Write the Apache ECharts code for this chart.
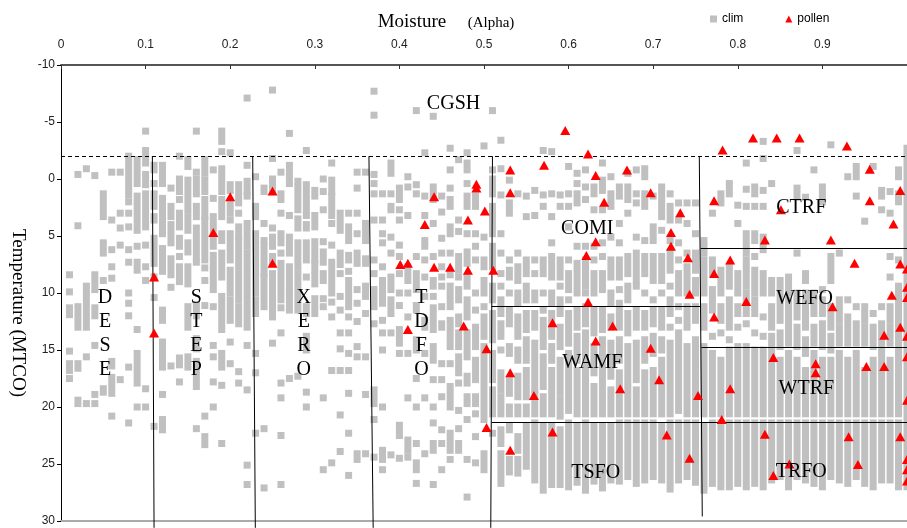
<!DOCTYPE html>
<html>
<head>
<meta charset="utf-8">
<script src="https://cdn.jsdelivr.net/npm/echarts@6/dist/echarts.min.js"></script>
<style>
  html, body { margin: 0; padding: 0; background: #fff; }
  #mainChart { width: 907px; height: 528px; }
</style>
</head>
<body>
<div id="mainChart"></div>
<script>
// clim points, one entry per moisture column: [alpha, [temp or [tempFrom, tempTo], ...]]
var climWest = [
    [0.01, [8.4, 9.9, [11.3, 11.9], 15.1, [16.2, 16.8], 17.5]],
    [0.02, [-0.4, 4.1, [11.2, 13], [16.2, 16.6], [19.4, 19.7]]],
    [0.03, [-0.9, [9.4, 13.0], 15.6, 19.7]],
    [0.04, [-0.3, [8.4, 9.7], [11.3, 12], 14.6, 18.9, 19.7]],
    [0.05, [[1.3, 3.3], [5.6, 6.5], 8.9, [18.4, 18.7]]],
    [0.06, [-0.6, 3.6, 6.2, 7.7, 8.7, [16, 16.4], [17.4, 18.8], 20.8]],
    [0.07, [-0.6, 3, 4.3, 5.8, 17.6]],
    [0.08, [[-2, 1.4], 2, 3, 4.2, 6.2, 7.3, 10, 10.9, 12, 16.5, 21.4]],
    [0.09, [[-1.7, 0.4], [1.5, 4.5], 5.9, [7.3, 8], 13.2, [15.3, 17.9], 20]],
    [0.10, [-4.2, [-2.5, -1.4], [-0.4, 0.5], [1.3, 4.2], 5.8, 7.7, 8.9, 18.4, 20]],
    [0.11, [[-1.2, -0.8], 0.4, [1.3, 2.4], [3.3, 3.6], [5.2, 7.4], 8.6, 10.4, 21.7]],
    [0.12, [[-1.2, 0.4], [1.7, 4.8], [6.1, 8.1], [11.5, 12.4], [14.3, 15.3], [15.7, 16.5], 18.9, [21.1, 22]]],
    [0.13, [0.8, [2.4, 3.3], [4, 5.6], [7, 8.4], 9.5, 16.4]],
    [0.14, [-2, [0, 1.1], 1.8, [3, 4.2], [5.2, 5.9], 6.8, [7.7, 9], [15.7, 16.3], 17.8]],
    [0.15, [[-1.7, -1.1], [0.1, 2.7], [3.3, 4.5], [5.6, 6.4], [7.7, 9.2], [11.2, 13], [15.6, 16.5]]],
    [0.16, [-4.2, -0.6, [0, 1.3], [2.4, 3.3], [4.3, 6.8], 7.3, [11, 12], [14, 14.9], [16, 18.2], 21.9]],
    [0.17, [[-1.7, -0.5], [0.1, 1.1], [1.8, 3.3], [3.6, 7.1], 7.8, 8.9, 11.1, 20.8, [22.6, 23.3]]],
    [0.18, [-0.8, 1.7, [3.3, 5.9], [6.7, 9.7], 11.2, 14.6, 15.6, 17.8, 20]],
    [0.19, [[-4.2, -3.3], -2.4, [-0.9, 1.1], [1.8, 3.3], [4.8, 5.4], [6.5, 8.6], [10.3, 13.2], [15.3, 16.5], 18.1, 23.2]],
    [0.20, [-2.3, [0.5, 1], [2.1, 3], 3.6, [4.8, 7.1], [8, 10], [10.6, 12.4], 14.3, 16.2]],
    [0.21, [[0.5, 2.1], 3, [4.2, 5], [5.4, 7.7], [8.3, 10.6], [11.2, 12.7], 16.9, 17.9]],
    [0.22, [-7.1, -1.2, [0.2, 1.1], 1.5, [3.9, 5.9], [6.5, 13], 14.6, 18.5, 25.1, 26.8]],
    [0.23, [-0.2, [2.4, 3.3], [4.8, 5.9], [6.2, 10], [10.6, 11.8], 15.3, 17, 22.3]],
    [0.24, [[0.8, 1.1], 3.9, 5.4, [5.9, 8.3], [8.6, 11.2], 21.9, 27.1]],
    [0.25, [-7.8, -1.8, [0, 0.5], 1.1, 4.3, [5.1, 5.9], [6.8, 7.4], [8.3, 12.1], 14.4]],
    [0.26, [-0.6, [1.3, 1.8], 3, [4.8, 5.6], 6.5, [7.4, 10.6], 11.3, 13.5, 17.9, 19.2, 22.5, 26.8]],
    [0.27, [-4, [-1.2, 0.4], 3.2, [5.1, 6.5], [7.7, 9.7], [10, 11.5], 17.5]],
    [0.28, [0.2, [0.7, 2.7], [3.5, 4.3], [5.6, 7.7], [8.3, 11.5], 17.3]],
    [0.29, [-2.5, [0.5, 2.7], 3.2, [4, 4.3], [5.6, 7.1], 8.6, [11.2, 11.8], [13.8, 15], 18.7, 20]],
    [0.30, [[1, 1.5], [3.2, 4.2], [5.5, 7.1], [7.4, 9.2], [10.5, 11.8]]],
    [0.31, [0, 1.1, 2.7, 5.5, [6.4, 7.3], [8.3, 8.9], 10.5, 11.2, 19.2, 25.5]],
    [0.32, [-1.4, [0.1, 1.1], [1.5, 3.2], 3.9, 5.8, [7.3, 10], 10.8, 12.1, 16.8, 24.9]],
    [0.33, [[3, 4.5], [6.5, 7.5], 8.3, 10.3, 11.5, 13.5, 14.9, 16.8, 20.7, 23.9]]
];
var climMid = [
    [0.34, [3, [4.2, 5.4], [6.7, 7.1], 8.1, [8.9, 11.2], 12.1, 13.5, 15.3, 16.8, 18.8, 22.3, 26]],
    [0.35, [-0.6, 0.8, 3, 4.8, [6.5, 7.4], 9.7, 10.9, 12.5, 14.7, 15.6, [24.1, 24.6]]],
    [0.36, [-0.6, [3.9, 5.4], [7, 7.4], [9.4, 10.3], 11.8, 15.6, 18.9, 24.1]],
    [0.37, [-7.7, -5.6, -0.4, 0.4, 1.3, 3.6, 7.1, 8.3, [9.7, 11.2], 12.7, [18.5, 19.7], 21.1, 24.4]],
    [0.38, [1.3, 3.6, 4.8, 5.6, 7.7, [8.9, 9.7], [10.3, 10.9], 12.4, 13.5, 15, 20, [23.8, 24.6], 25.5]],
    [0.39, [[-1.4, -0.5], 1.3, [2.4, 2.7], 5.1, 6.5, [8.6, 9.7], [10.6, 11.8], 13.5, 24.2]],
    [0.40, [[0.8, 1.8], 2.7, 3.6, 5.8, 6.8, 8.3, 10, 11.1, [13.2, 14.4], 15.3, [21.6, 22.5], 24.5]],
    [0.41, [-0.2, 0.7, 3.2, [7.7, 8.9], 10, 12.1, 15.3, 19.2, [22.9, 23.8], 24.4]],
    [0.42, [-6, 0.5, 1.3, 6.8, 8.3, [8.9, 9.7], [11.1, 11.5], [14.1, 15], 17.5, 20, 23.2, [24.9, 25.5], 26.7]],
    [0.43, [-2.3, 1.5, 3.2, 5.4, 5.9, 7.1, 8.6, 10.3, [12.4, 13], 15.3, 19.2, 24.1]],
    [0.44, [-5.5, [0.7, 1.8], 3.9, 6.8, [8.9, 9.4], 10.3, [11.3, 13.2], [14.7, 15.9], 17.6, 20, 21.4, [23.2, 23.8], 26.8]],
    [0.45, [1.5, 2.9, 5.2, 6.5, 7.7, 8.6, 9.4, 11.2, [12.7, 13], 16.2, 17.6, 19.1, 22, 23.2, 25.5]],
    [0.46, [-2.7, -0.8, 0.8, [1.8, 2.4], [4.2, 4.8], 6.5, 8.4, [9.4, 11.2], [12.4, 14.7], 16.2, [18.2, 20], [22.3, 23.2], 23.8, 24.6]],
    [0.47, [-1.7, 3.6, 4.6, [6.8, 8], 8.6, [9.7, 10.6], [12.1, 12.7], [13.5, 14.7], [15.6, 17], 17.9, 20.3, 21.9, [23.2, 23.8]]],
    [0.48, [-2.3, [-1.4, -0.8], 0.4, [1.5, 2.4], 4.8, [6.4, 7.4], [8.6, 9.4], [10.6, 12.1], [13.5, 15.6], [17.3, 17.9], [19.1, 19.7], 21.1, 24.6, 27.9]],
    [0.49, [[1.5, 2.4], 4.8, 5.9, 7.1, 10, 11.5, [13, 14.7], [15.9, 17.6], [19.1, 19.7], 20.6, 22.6, 24.9]],
    [0.50, [-2.9, 5.1, [7.1, 7.7], [8.9, 10], 11.2, [12.1, 13.8], [14.7, 17.6], [18.2, 21.1], [24.1, 25.5]]],
    [0.51, [-6, -0.8, [0, 1.3], [2.4, 4.8], [5.9, 7.7], [9.4, 10.6], [11.8, 14.1], [15.3, 17.6], [18.5, 20.6], 22.3]],
    [0.52, [-3.4, -0.9, 1.4, 4.8, 6.5, 8.3, 9.4, [10.6, 11.8], [12.7, 13.8], 15, [17, 18.5], [19.1, 20.6], [22, 23.2], [24.1, 26.7]]],
    [0.53, [0.1, [2.1, 3], 7.1, [8, 8.6], 10, [11.5, 12.7], [14.7, 15.3], [17.6, 18.8], [20, 20.6], [21.7, 22], [24.6, 25.7]]],
    [0.54, [1.3, 6.5, [7.7, 8.9], [10, 10.9], [12.1, 13.8], [15, 15.9], [17.3, 19.1], [20, 20.6], [22.6, 23.8], [24.6, 25.8]]],
    [0.55, [1.5, 3.3, [7.1, 8.3], [9.4, 10.6], [11.8, 13.2], [14.1, 15.9], [16.8, 19.1], [20, 20.6], [21.7, 25.2]]],
    [0.56, [1, 3.2, 7.1, 8.3, [10, 10.6], [11.8, 13], [14.4, 18.5], [18.8, 20.6], [21.4, 26.4]]],
    [0.57, [-2.5, 1.4, 2.4, [7.1, 8.3], 10, 11.5, [12.4, 14.7], [15.6, 18.2], [19.1, 20.6], [21.7, 27.3]]],
    [0.58, [-2.4, 1.3, 3.3, 5.6, [6.8, 8.6], [10, 10.9], [11.8, 13.8], [14.7, 15.9], [16.8, 20.6], [21.7, 26.8]]],
    [0.59, [1.4, 2.4, [7.1, 8.6], 9.4, [10.6, 11.8], [13, 14.7], [15.9, 18.8], [19.4, 20.8], [22, 26.8]]],
    [0.60, [-1.1, 1.3, 2.4, 4.2, 7.1, [8.3, 9.7], 10.6, [11.8, 14.4], [15.3, 20.3], [21.4, 27]]],
    [0.61, [-0.5, 0.4, [1.3, 2.1], 5.9, [7.4, 10], [11.5, 13], [13.8, 15.9], [16.8, 20.6], [21.7, 26.6]]],
    [0.62, [-0.8, 0.7, 1.8, 5.9, [7.1, 9.4], 10, [11.2, 12.7], [13.5, 15.3], [15.9, 20.6], [21.4, 27.3]]],
    [0.63, [[0.7, 1.3], 2.7, 5.9, 7.1, [8.3, 10], [11.5, 13.5], [14.7, 17], [18.2, 20.6], [21.7, 26.5]]],
    [0.64, [-1.4, [0.1, 1], 2.7, 5.6, 6.8, [8.3, 9.7], [11.5, 13.2], [14.1, 15.3], [15.9, 20.6], [21.7, 27.1]]],
    [0.65, [-0.2, [1.3, 2.4], 5.1, [7.1, 8.6], [10, 10.9], [12.1, 13], [14.4, 17.3], [18.5, 20.6], [21.7, 26.4]]],
    [0.66, [[0.7, 1.5], 3.9, 5.6, [7.1, 8.6], 9.7, [10.9, 13], [14.1, 15.9], [17, 20.6], [21.4, 26.5]]],
    [0.67, [-0.5, [0.7, 1.8], 3, [6.8, 8.3], [9.4, 10.6], [11.8, 13.5], [14.7, 17.6], [18.2, 20.6], [21.4, 26.1]]]
];
var climEast = [
    [0.68, [-0.8, 1.3, 2.1, 5.1, [6.5, 8.9], 9.4, [11.5, 13], [14.4, 17.6], [18.5, 20.6], [21.4, 26.7]]],
    [0.69, [[-0.9, -0.2], [1.3, 2.4], 5.4, [6.8, 8.3], 10, [11.8, 13], [14.1, 15.9], [17, 20.6], [21.4, 26.4]]],
    [0.70, [1.5, [4.2, 5.4], [6.8, 8.9], 10.6, [11.5, 12.7], [13.8, 15.3], [16.8, 20.6], [21.4, 26.1]]],
    [0.71, [[0.7, 3.3], 4.5, [6.8, 8.9], 10, [11.5, 13], [14.1, 15], [15.9, 20.6], [21.7, 26.4]]],
    [0.72, [1.3, [2.4, 3.6], 5.4, [6.5, 8], 9.4, [10.6, 11.8], 13, [14.4, 20.6], [21.4, 27.2]]],
    [0.73, [2.1, 3.6, 5.6, 7.1, [8.3, 10], 11.2, 12.4, [13.5, 20.3], [21.4, 26.4]]],
    [0.74, [2.1, 3.9, 6.5, [7.7, 10], [11.2, 13], [14.7, 20.6], [21.4, 26.1]]],
    [0.75, [2.1, 4.8, [6.5, 8], [8.9, 10], [11.2, 12.4], [14.1, 18.8], [19.4, 20.6], [21.4, 26.6]]],
    [0.76, [5.4, [5.9, 6.5], [7.1, 10], [11.2, 13], [14.7, 20.6], [21.7, 27.3]]],
    [0.77, [3, [7.1, 8.3], [9.7, 11.5], 13.8, [15.3, 20.6], [21.4, 26.7]]],
    [0.78, [[1.3, 2.1], [8, 10], [11.2, 12.4], 13.5, [15.9, 20.6], [21.4, 27]]],
    [0.79, [[0.4, 1.3], [7.7, 9.4], [10.6, 13], 14.1, [15, 20.6], [21.4, 27]]],
    [0.80, [2.3, 3.9, [8.3, 10], [11.2, 11.8], 13, [14.7, 20.6], [21.4, 26.7]]],
    [0.81, [-1.4, 0.9, 2.4, [4.8, 6.5], [7.1, 9.4], [10, 11.8], 12.7, [14.7, 20.6], [21.4, 27]]],
    [0.82, [[0.7, 1.3], 2.4, [4.8, 5.4], 6.8, [8, 10], [10.6, 11.8], 13.5, [15, 20.6], [21.4, 26.7]]],
    [0.83, [-3.3, -1.8, 1, 2.4, [5.1, 6.2], [8.3, 10], 12.1, 13.8, [15, 20.6], [21.4, 27]]],
    [0.84, [0.4, [8.9, 10], [11.2, 13], [13.8, 20.6], [21.4, 26.4]]],
    [0.85, [[8.9, 12.4], [13.5, 14.7], [15.9, 20.6], [21.4, 26.1]]],
    [0.86, [[8.6, 10], [10.6, 14.4], [15.3, 20.6], [21.4, 27]]],
    [0.87, [-2.5, [0.8, 1.6], 6.5, [10, 12.1], [13, 14.7], [15.9, 20.6], [21.4, 26.1]]],
    [0.88, [1.6, [8.3, 8.9], [10, 13], [14.1, 15.3], [16.8, 20.6], [21.4, 26.4]]],
    [0.89, [-0.8, [10, 11.8], [13, 14.4], [15.3, 20.6], [21.4, 26.7]]],
    [0.90, [[0.7, 2], 9.7, [10.6, 11.8], [12.7, 14.7], [15.9, 20.6], [21.4, 27]]],
    [0.91, [-3, [6.8, 8.9], [11.2, 13], [13.8, 15], [15.9, 20.6], [21.4, 26.1]]],
    [0.92, [6.5, [10.6, 12.4], [13, 14.4], [15.3, 20.6], [21.4, 26.4]]],
    [0.93, [-0.2, 10.6, [12.1, 14.4], [15.9, 20.6], [21.4, 26.7]]],
    [0.94, [[-1.1, -0.2], 1.5, 11.2, [12.7, 14.4], [15.3, 20.6], [21.4, 26.1]]],
    [0.95, [3.7, [11.2, 12.4], [13, 14.4], [16.8, 20.6], [21.4, 26.7]]],
    [0.96, [-1.1, 11.8, [13, 14.7], [15.9, 20.6], [21.4, 27]]],
    [0.97, [[1, 1.5], 2.7, 11.2, [12.7, 14.7], [15.3, 20.6], [21.4, 26.4]]],
    [0.98, [1.1, 3.0, 6.8, 8.6, [11.2, 12.4], [13, 14.4], [15.9, 20.6], [21.4, 26.4]]],
    [0.99, [[-0.8, -0.2], [1.3, 2], 7.1, [9.4, 11.8], [12.4, 14.7], [15.3, 20.6], [21.4, 27]]],
    [1.00, [[-2.7, 27]]]
];

// pollen sites [alpha, MTCO]
var pollenPts = [
    [0.110, 8.6], [0.110, 13.5], [0.180, 4.7], [0.200, 1.55], [0.250, 1.05], [0.250, 7.4],
    [0.441, 1.55], [0.430, 4.0], [0.401, 7.5], [0.410, 7.4], [0.441, 7.75], [0.460, 7.75], [0.481, 8.0], [0.511, 8.0],
    [0.410, 13.2], [0.476, 12.9], [0.503, 14.9], [0.503, 21.8], [0.491, 0.45], [0.491, 0.8], [0.481, 3.6], [0.501, 2.8],
    [0.531, -0.8], [0.531, 1.2], [0.571, -1.2], [0.596, -4.25], [0.623, -2.2], [0.632, -0.3], [0.669, -0.8], [0.642, 2.05],
    [0.632, 5.5], [0.621, 6.7], [0.623, 10.8], [0.581, 12.6], [0.652, 12.9], [0.632, 14.2], [0.531, 17.0], [0.559, 19.0],
    [0.661, 18.4], [0.581, 22.2], [0.531, 23.8],
    [0.697, 1.2], [0.732, 2.95], [0.721, 4.7], [0.721, 5.9], [0.741, 6.9], [0.743, 10.1], [0.697, 14.85], [0.707, 17.6],
    [0.753, 19.0], [0.716, 22.45], [0.743, 24.5],
    [0.782, -2.55], [0.818, -3.6], [0.846, -3.6], [0.873, -3.6], [0.929, -2.9], [0.956, -0.85], [0.772, 1.9], [0.956, 1.9],
    [0.992, 1.0], [0.984, 3.95], [0.851, 2.7], [0.832, 5.35], [0.910, 5.35], [0.791, 7.1], [0.772, 8.3], [0.938, 7.4],
    [0.992, 7.45], [0.810, 10.75], [0.912, 11.2], [0.982, 10.2], [0.772, 12.1], [0.973, 13.7], [0.992, 13.0], [0.842, 15.65],
    [0.892, 16.2], [0.892, 17.0], [0.952, 16.45], [0.973, 16.45], [0.791, 18.4], [0.781, 21.1], [0.832, 22.4], [0.931, 22.6],
    [0.992, 22.6], [0.942, 25.05], [0.861, 25.0], [0.842, 26.0],
    [1.0, 7.9], [1.0, 9.5], [1.0, 10.4], [1.0, 13.8], [1.0, 15.6], [1.0, 19.4], [1.0, 24.6], [1.0, 25.5], [1.0, 26.5]
];

// biome boundaries [x0, y0, x1, y1]
var biomeLines = [
    [0.108, -2, 0.110, 30.6],
    [0.2266, -2, 0.2297, 30.6],
    [0.364, -2, 0.369, 30.6],
    [0.510, -2, 0.508, 30.6],
    [0.7545, -2, 0.758, 29.6],
    [0.509, 11.2, 0.756, 11.2],
    [0.509, 21.3, 1.0, 21.3],
    [0.756, 6.1, 1.0, 6.1],
    [0.757, 14.8, 1.0, 14.8]
];
var coldLine = [0, -2, 1, -2];

var biomeNames = ['CGSH', 'COMI', 'CTRF', 'WEFO', 'WTRF', 'TRFO', 'WAMF', 'TSFO', 'D\nE\nS\nE', 'S\nT\nE\nP', 'X\nE\nR\nO', 'T\nD\nF\nO'];
var biomeX = [0.464, 0.622, 0.875, 0.879, 0.881, 0.875, 0.628, 0.632, 0.052, 0.160, 0.287, 0.426];
var biomeY = [-6.6, 4.4, 2.5, 10.5, 18.4, 25.7, 16.1, 25.8, 13.6, 13.6, 13.6, 13.6];

function toRects(cols) {
    var out = [];
    cols.forEach(function (c) {
        c[1].forEach(function (r) {
            if (typeof r === 'number') out.push([c[0], r, r]);
            else out.push([c[0], r[0], r[1]]);
        });
    });
    return out;
}

var climData = toRects(climWest).concat(toRects(climMid), toRects(climEast));

var solidLines = biomeLines.map(function (l) {
    return { coords: [[l[0], l[1]], [l[2], l[3]]] };
});

var labelData = biomeNames.map(function (n, i) {
    return { name: n, value: [biomeX[i], biomeY[i]] };
});

var sansFont = 'Liberation Sans, Arial, sans-serif';
var serifFont = 'Liberation Serif, Times New Roman, serif';

var option = {
    animation: false,
    backgroundColor: '#fff',
    grid: { left: 61, right: 0, top: 65, bottom: 7 },
    legend: {
        left: 705,
        top: 8,
        itemWidth: 7,
        itemHeight: 7,
        itemGap: 42,
        textStyle: { fontFamily: sansFont, fontSize: 12, color: '#000' },
        data: [
            { name: 'clim', icon: 'rect' },
            { name: 'pollen', icon: 'triangle' }
        ]
    },
    xAxis: [
        {
            type: 'value',
            position: 'top',
            min: 0,
            max: 1,
            interval: 0.1,
            axisLine: { show: true, onZero: false, lineStyle: { color: '#555', width: 2 } },
            axisTick: { show: true, inside: true, length: 4, lineStyle: { color: '#333' } },
            axisLabel: { margin: 14, color: '#222', fontFamily: sansFont, fontSize: 12, showMaxLabel: false },
            splitLine: { show: false }
        },
        {
            type: 'value',
            position: 'bottom',
            min: 0,
            max: 1,
            axisLine: { show: true, onZero: false, lineStyle: { color: '#aaa', width: 2 } },
            axisTick: { show: false },
            axisLabel: { show: false },
            splitLine: { show: false }
        }
    ],
    yAxis: {
        type: 'value',
        inverse: true,
        min: -10,
        max: 30,
        interval: 5,
        axisLine: { show: true, onZero: false, lineStyle: { color: '#000', width: 1 } },
        axisTick: { show: true, length: 4, lineStyle: { color: '#000' } },
        axisLabel: { margin: 6, color: '#222', fontFamily: sansFont, fontSize: 12 },
        splitLine: { show: false }
    },
    graphic: [
        {
            type: 'text', x: 412, y: 22,
            style: { text: 'Moisture', font: '19px ' + serifFont, fill: '#000', textAlign: 'center', textVerticalAlign: 'middle', align: 'center', verticalAlign: 'middle' }
        },
        {
            type: 'text', x: 491, y: 23,
            style: { text: '(Alpha)', font: '15px ' + serifFont, fill: '#000', textAlign: 'center', textVerticalAlign: 'middle', align: 'center', verticalAlign: 'middle' }
        },
        {
            type: 'text', x: 18, y: 313, rotation: -Math.PI / 2,
            style: { text: 'Temperature (MTCO)', font: '19px ' + serifFont, fill: '#000', textAlign: 'center', textVerticalAlign: 'middle', align: 'center', verticalAlign: 'middle' }
        }
    ],
    series: [
        {
            name: 'clim',
            type: 'custom',
            itemStyle: { color: '#c0c0c0' },
            encode: { x: 0, y: [1, 2] },
            renderItem: function (params, api) {
                var x = api.value(0);
                var p0 = api.coord([x, api.value(1)]);
                var p1 = api.coord([x, api.value(2)]);
                var top = Math.min(p0[1], p1[1]);
                return {
                    type: 'rect',
                    shape: { x: p0[0] - 3.5, y: top - 3.5, width: 7, height: Math.abs(p1[1] - p0[1]) + 7 },
                    style: { fill: '#c0c0c0' }
                };
            },
            data: climData,
            z: 1
        },
        {
            name: 'boundaries',
            type: 'lines',
            coordinateSystem: 'cartesian2d',
            polyline: false,
            clip: false,
            silent: true,
            lineStyle: { color: '#000', width: 1, opacity: 1, curveness: 0 },
            data: solidLines,
            z: 2
        },
        {
            name: 'cold limit',
            type: 'lines',
            coordinateSystem: 'cartesian2d',
            clip: false,
            silent: true,
            lineStyle: { color: '#000', width: 1, opacity: 1, type: [4, 3] },
            data: [{ coords: [[coldLine[0], coldLine[1]], [coldLine[2], coldLine[3]]] }],
            z: 2
        },
        {
            name: 'biomes',
            type: 'scatter',
            symbolSize: 0,
            silent: true,
            clip: false,
            itemStyle: { opacity: 1 },
            data: labelData,
            label: {
                show: true,
                position: 'inside',
                formatter: function (p) { return p.name; },
                fontFamily: serifFont,
                fontSize: 20,
                lineHeight: 24,
                color: '#000'
            },
            z: 4
        },
        {
            name: 'pollen',
            type: 'scatter',
            symbol: 'triangle',
            symbolSize: [10, 9],
            itemStyle: { color: '#ff0000', opacity: 1 },
            data: pollenPts,
            z: 3
        }
    ]
};

var chart = echarts.init(document.getElementById('mainChart'));
chart.setOption(option);
</script>
</body>
</html>
